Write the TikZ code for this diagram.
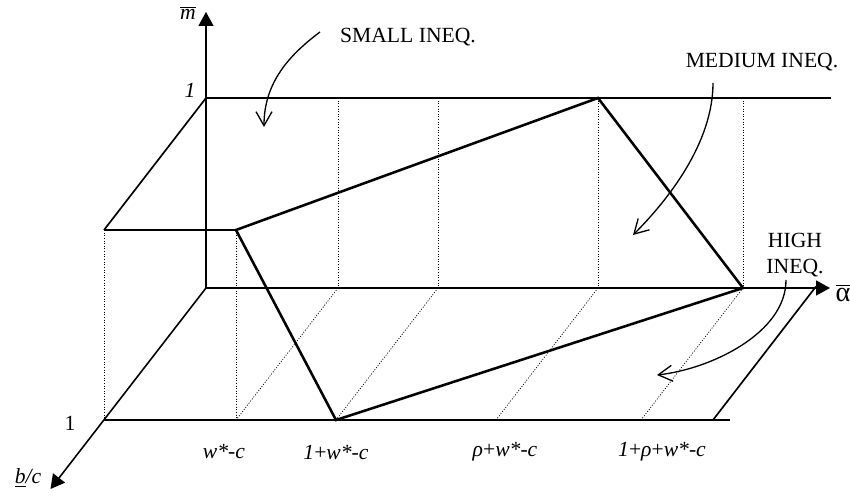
\documentclass[tikz,border=0pt]{standalone}
\usepackage{fontspec}
\setmainfont{Liberation Serif}
\usepackage{tikz}
\usetikzlibrary{arrows.meta}
\tikzset{
  ax/.style={line width=0.9pt,-{Triangle[length=2.8mm,width=3mm]}},
  ln/.style={line width=0.95pt},
  bd/.style={line width=1.45pt},
  dt/.style={line width=0.4pt,dash pattern=on 0.6pt off 0.9pt},
  lbl/.style={inner sep=0pt,font=\fontsize{12.3}{14.5}\selectfont},
  pt/.style={line width=0.75pt,-{Straight Barb[length=2.8mm,width=3.2mm]}},
}

\begin{document}
\begin{tikzpicture}
  \useasboundingbox (-4.12,-4.18) rectangle (12.88,5.76);
  \coordinate (o) at (0,0);
  \coordinate (mt) at (0,5.52);
  \coordinate (at) at (12.48,0);
  \coordinate (bt) at (-3.11,-4.02);
  \coordinate (t0) at (0,3.8);
  \coordinate (te) at (12.5,3.8);
  \coordinate (tw) at (2.64,3.8);
  \coordinate (t1w) at (4.64,3.8);
  \coordinate (trw) at (7.84,3.8);
  \coordinate (t1rw) at (10.74,3.8);
  \coordinate (bw) at (2.64,0);
  \coordinate (b1w) at (4.64,0);
  \coordinate (brw) at (7.84,0);
  \coordinate (b1rw) at (10.74,0);
  \coordinate (f0) at (-2.04,1.16);
  \coordinate (fw) at (0.6,1.16);
  \coordinate (g0) at (-2.04,-2.64);
  \coordinate (gw) at (0.6,-2.64);
  \coordinate (g1w) at (2.6,-2.64);
  \coordinate (grw) at (5.8,-2.64);
  \coordinate (g1rw) at (8.7,-2.64);
  \coordinate (ge) at (10.14,-2.64);
  \coordinate (gx) at (10.48,-2.64);
  \coordinate (r) at (12.2,0.03);
  \foreach \a/\b in {tw/bw,t1w/b1w,trw/brw,t1rw/b1rw,f0/g0,fw/gw,bw/gw,b1w/g1w,brw/grw,b1rw/g1rw}
    \draw[dt] (\a) -- (\b);
  \draw[ax] (o) -- (mt);
  \draw[ax] (o) -- (at);
  \draw[ax] (o) -- (bt);
  \draw[ln] (t0) -- (te);
  \draw[ln] (t0) -- (f0);
  \draw[ln] (g0) -- (g1w);
  \draw[ln] (ge) -- (gx);
  \draw[ln] (ge) -- (r);
  \draw[bd] (f0) -- (fw);
  \draw[bd] (fw) -- (trw) -- (b1rw) -- (g1w) -- cycle;
  \draw[bd] (g1w) -- (ge);
  \node[lbl] (mlab) at (-0.36,5.5) {$\overline{\mbox{\itshape m}}$};
  \node[lbl] (one) at (-0.32,3.96) {\textit{1}};
  \node[lbl] (onef) at (-2.72,-2.7) {1};
  \node[lbl] (bc) at (-3.56,-3.8) {\underline{\textit{b}}\textit{/c}};
  \node[lbl,font=\fontsize{16}{18}\selectfont] (alab) at (12.74,-0.1) {$\overline{\mbox{α}}$};
  \node[lbl] (x1) at (0.36,-3.28) {\textit{w*-c}};
  \node[lbl] (x2) at (2.6,-3.28) {\textit{1}+\textit{w*-c}};
  \node[lbl] (x3) at (5.98,-3.28) {\textit{ρ}+\textit{w*-c}};
  \node[lbl] (x4) at (9.12,-3.28) {\textit{1}+\textit{ρ}+\textit{w*-c}};
  \node[lbl] (small) at (4.04,5.02) {SMALL INEQ.};
  \node[lbl] (medium) at (11.12,4.52) {MEDIUM INEQ.};
  \node[lbl,align=center] (high) at (11.78,0.66) {HIGH\\INEQ.};
  \coordinate (s1) at (2.28,5.12);
  \coordinate (e1) at (1.16,3.22);
  \coordinate (s2) at (10.14,4.1);
  \coordinate (e2) at (8.54,1.06);
  \coordinate (s3) at (11.6,0.16);
  \coordinate (e3) at (9.02,-1.74);
  \draw[pt] (s1) .. controls (1.68,4.67) and (1.16,4.12) .. (e1);
  \draw[pt] (s2) .. controls (10.14,2.9) and (9.24,1.76) .. (e2);
  \draw[pt] (s3) .. controls (11.6,-0.9) and (10.1,-1.62) .. (e3);
\end{tikzpicture}
\end{document}
